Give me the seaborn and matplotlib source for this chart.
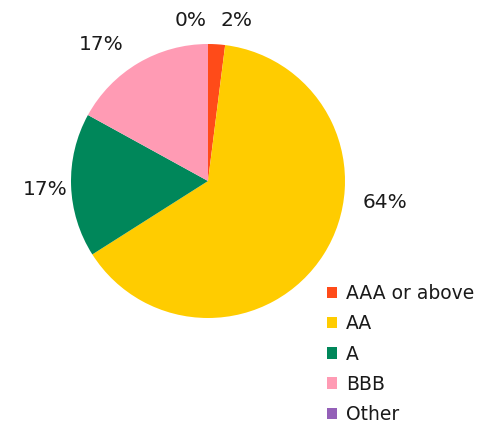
import matplotlib
matplotlib.use('Agg')
import matplotlib.pyplot as plt
import seaborn as sns

sns.set_style('white')
plt.rcParams['font.family'] = ['DejaVu Sans']

ratings = ['AAA or above', 'AA', 'A', 'BBB', 'Other']
shares = [2, 64, 17, 17, 0]
colors = ['#ff4b19', '#ffcc00', '#00875a', '#ff9bb4', '#9460b8']
pct_labels = ['2%', '64%', '17%', '17%', '0%']

fig = plt.figure(figsize=(4.79, 4.28), dpi=100)
ax = fig.add_axes([0, 0, 1, 1])
r_px = 137
cx, cy = 208, 181

wedges, _ = ax.pie(shares, colors=colors, startangle=90, counterclock=False,
                   radius=1, frame=True, wedgeprops=dict(linewidth=0))
ax.set_xlim(-cx / r_px, (479 - cx) / r_px)
ax.set_ylim(-(428 - cy) / r_px, cy / r_px)
ax.set_aspect('auto')
ax.axis('off')

# label positions (relative to radius)
label_pos = [(0.21, 1.175), (1.295, -0.16), (-1.19, -0.06), (-0.78, 1.0), (-0.13, 1.175)]
for txt, (x, y) in zip(pct_labels, label_pos):
    ax.text(x, y, txt, ha='center', va='center', fontsize=14.5, color='#1a1a1a')

fig.legend(wedges, ratings, loc='upper left', bbox_to_anchor=(327 / 479, 1 - 284 / 428),
           frameon=False, fontsize=13.5, handlelength=0.55, handleheight=0.55,
           handletextpad=0.45, labelspacing=0.6, borderpad=0, borderaxespad=0,
           labelcolor='#1a1a1a')

fig.savefig('out.png', dpi=100)
